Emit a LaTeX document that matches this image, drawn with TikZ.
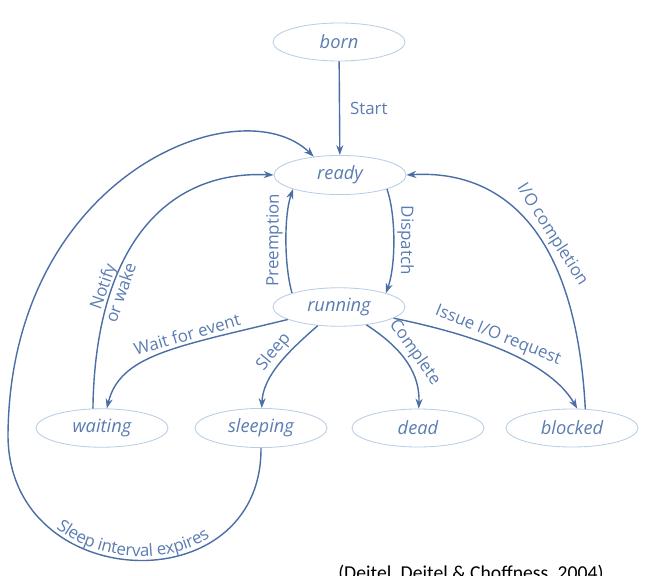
\documentclass[tikz,border=0pt]{standalone}
\usepackage{fontspec}
\setmainfont{Open Sans}
\newfontfamily\citefont{Carlito}
\usetikzlibrary{shapes,arrows.meta,decorations.text}
\definecolor{linkblue}{RGB}{74,110,165}
\definecolor{labelblue}{RGB}{90,124,178}
\definecolor{rimblue}{RGB}{185,205,228}

\begin{document}
\begin{tikzpicture}[x=0.025cm,y=0.025cm,>={Stealth[length=7pt,width=5pt]}]
\tikzstyle{state}=[ellipse,draw=rimblue,line width=0.6pt,minimum width=3.3cm,minimum height=0.95cm,text=labelblue,font=\fontsize{13}{15}\selectfont\itshape]
\tikzstyle{move}=[->,draw=linkblue,line width=1pt]
\tikzstyle{tag}=[text=labelblue,font=\fontsize{12}{13.5}\selectfont,inner sep=2pt]
\useasboundingbox (0,0) rectangle (647,575);
\node[state] (born) at (339,533) {born};
\node[state] (ready) at (340,400) {ready};
\node[state] (running) at (339,268) {running};
\node[state] (waiting) at (102,147) {waiting};
\node[state] (sleeping) at (261,147) {sleeping};
\node[state] (dead) at (418,147) {dead};
\node[state] (blocked) at (572,147) {blocked};
\coordinate (loop) at (8,140);

\draw[move] (born) -- node[tag,right=5pt] {Start} (ready);
\draw[move] (ready.south east) .. controls (396,360) and (396,310) .. node[tag,sloped,allow upside down,above] {Dispatch} (running.north east);
\draw[move] (running.north west) .. controls (284,310) and (284,360) .. node[tag,sloped,allow upside down,above] {Preemption} (ready.south west);
\draw[move] (running) .. controls (175,228) and (120,220) .. node[tag,sloped,pos=.35,above] {Wait for event} (waiting);
\draw[move] (running) .. controls (290,225) and (263,200) .. node[tag,sloped,pos=.45,above] {Sleep} (sleeping);
\draw[move] (running) .. controls (405,225) and (420,200) .. node[tag,sloped,pos=.45,above] {Complete} (dead);
\draw[move] (running) .. controls (500,235) and (555,205) .. node[tag,sloped,pos=.38,above] {Issue I/O request} (blocked.75);
\draw[move] (blocked.55) .. controls (575,360) and (490,405) .. node[tag,sloped,pos=.4,above] {I/O completion} (ready.east);
\draw[move] (waiting.115) .. controls (95,320) and (160,405) .. node[tag,sloped,pos=.3,align=center] {Notify\\or wake} (ready.west);
\draw[move] (sleeping.south) .. controls (262,-30) and (8,-20) .. (loop) .. controls (10,400) and (240,490) .. (ready.145);
% label along the bottom loop
\path[decorate,decoration={text along path,text align=center,raise=3pt,
  text={|\color{labelblue}\fontsize{12}{13.5}\selectfont|Sleep interval expires}}]
  (loop) .. controls (8,-20) and (262,-30) .. (sleeping.south);

\node[anchor=base west,inner sep=0pt,font=\citefont\fontsize{14}{16}\selectfont] (cite) at (338,-4) {(Deitel, Deitel \& Choffness, 2004)};
\end{tikzpicture}
\end{document}
